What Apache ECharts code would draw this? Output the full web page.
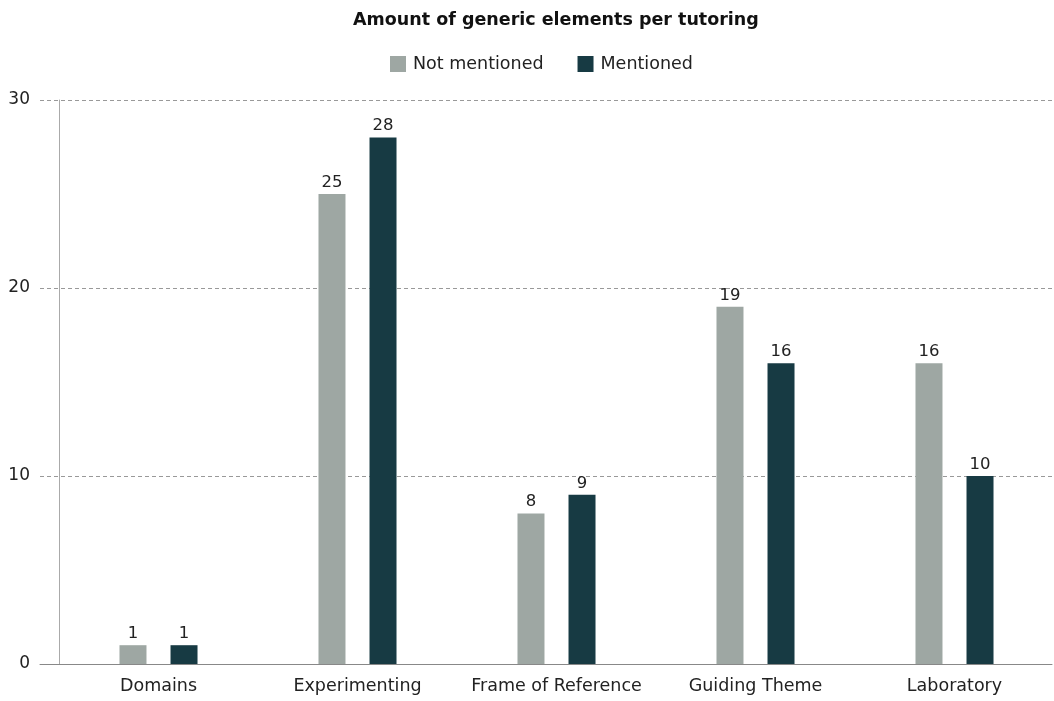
<!DOCTYPE html>
<html>
<head>
<meta charset="utf-8">
<script src="https://cdn.jsdelivr.net/npm/echarts@6/dist/echarts.min.js"></script>
<style>html,body{margin:0;padding:0;background:#fff}#c{width:1054px;height:701px}</style>
</head>
<body>
<div id="c"></div>
<script>
const categories = ['Domains', 'Experimenting', 'Frame of Reference', 'Guiding Theme', 'Laboratory'];
const notMentioned = [1, 25, 8, 19, 16];
const mentioned = [1, 28, 9, 16, 10];
const yTicks = [0, 10, 20, 30];

const FONT = 'DejaVu Sans';
const chart = echarts.init(document.getElementById('c'));
const labelStyle = { show: true, position: 'top', distance: 3, color: '#222', fontSize: 16.5, fontFamily: FONT };
chart.setOption({
  animation: false,
  textStyle: { fontFamily: FONT },
  title: {
    text: 'Amount of generic elements per tutoring',
    left: 348, top: 6,
    textStyle: { fontSize: 17.5, fontWeight: 'bold', color: '#111', fontFamily: FONT }
  },
  legend: {
    top: 50, left: 385,
    itemWidth: 16, itemHeight: 16, itemGap: 34,
    icon: 'rect',
    textStyle: { fontSize: 17.5, color: '#222', fontFamily: FONT, padding: [0, 0, 0, 2] },
    data: ['Not mentioned', 'Mentioned']
  },
  grid: [
    { left: 40, right: 2, top: 100, bottom: 37 },
    { left: 59, width: 1000, top: 100, bottom: 37 }
  ],
  xAxis: [
    { gridIndex: 0, type: 'category', data: categories, axisLabel: { show: false }, axisTick: { show: false },
      axisLine: { show: true, lineStyle: { color: '#888', width: 1 } } },
    { gridIndex: 1, type: 'category', data: categories, axisTick: { show: false }, axisLine: { show: false },
      axisLabel: { interval: 0, color: '#222', fontSize: 17.5, margin: 13, fontFamily: FONT } }
  ],
  yAxis: [
    { gridIndex: 0, type: 'value', min: yTicks[0], max: yTicks[yTicks.length - 1], interval: 10,
      axisLine: { show: false }, axisTick: { show: false },
      axisLabel: { color: '#222', fontSize: 17, margin: 10, fontFamily: FONT } ,
      splitLine: { show: true, lineStyle: { color: '#999', type: [4, 3], width: 1 } } },
    { gridIndex: 1, type: 'value', min: yTicks[0], max: yTicks[yTicks.length - 1], interval: 10,
      axisLine: { show: true, lineStyle: { color: '#aaa', width: 1 } }, axisTick: { show: false },
      axisLabel: { show: false }, splitLine: { show: false } }
  ],
  series: [
    { name: 'Not mentioned', type: 'bar', xAxisIndex: 1, yAxisIndex: 1, data: notMentioned,
      barWidth: 27, barGap: '89%', itemStyle: { color: '#9ea7a3' }, label: labelStyle },
    { name: 'Mentioned', type: 'bar', xAxisIndex: 1, yAxisIndex: 1, data: mentioned,
      barWidth: 27, barGap: '89%', itemStyle: { color: '#173a43' }, label: labelStyle }
  ]
});
</script>
</body>
</html>
